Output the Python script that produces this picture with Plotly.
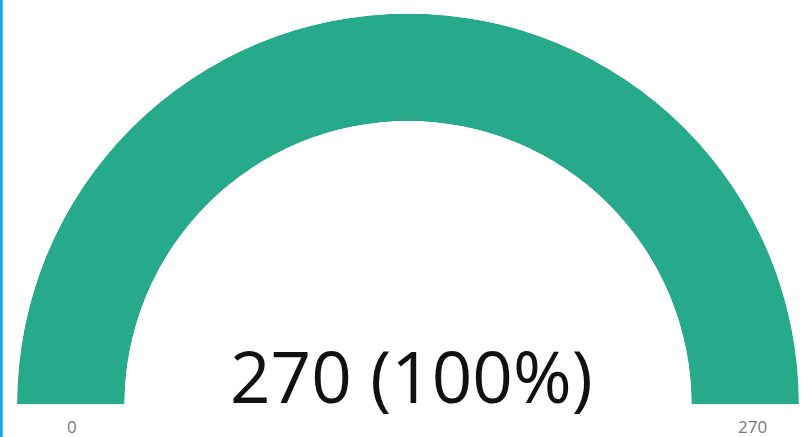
import plotly.graph_objects as go

# data
gauge_value = 270
gauge_min = 0
gauge_max = 270
tick_labels = ["0", "270"]

pct = round(100 * (gauge_value - gauge_min) / (gauge_max - gauge_min))
span = 180 * (gauge_value - gauge_min) / (gauge_max - gauge_min)

W, H = 802, 437
teal = "#27a98b"

fig = go.Figure()
fig.add_trace(go.Barpolar(
    r=[1], theta=[180 - span / 2], width=[span],
    marker=dict(color=teal, line=dict(width=0)),
    hoverinfo="skip", showlegend=False,
))

fig.update_layout(
    width=W, height=H,
    margin=dict(l=0, r=0, t=0, b=0),
    paper_bgcolor="white",
    polar=dict(
        domain=dict(x=[17 / W, 799 / W], y=[32 / H, 424 / H]),
        sector=[0, 180],
        hole=0.725,
        bgcolor="white",
        radialaxis=dict(visible=False, range=[0, 1]),
        angularaxis=dict(visible=False, direction="counterclockwise", rotation=0),
    ),
    font=dict(family="Open Sans"),
    annotations=[
        dict(text=f"{gauge_value} ({pct}%)", x=411 / W, y=1 - 375 / H, xref="paper", yref="paper",
             xanchor="center", yanchor="middle", showarrow=False,
             font=dict(family="Open Sans", size=71, color="#111111")),
        dict(text=tick_labels[0], x=72 / W, y=1 - 426 / H, xref="paper", yref="paper",
             xanchor="center", yanchor="middle", showarrow=False,
             font=dict(family="Open Sans", size=17, color="#787878")),
        dict(text=tick_labels[1], x=752 / W, y=1 - 426 / H, xref="paper", yref="paper",
             xanchor="center", yanchor="middle", showarrow=False,
             font=dict(family="Open Sans", size=17, color="#787878")),
    ],
    shapes=[dict(type="line", xref="paper", yref="paper", x0=0.0015, x1=0.0015, y0=0, y1=1,
                 line=dict(color="#12a5e3", width=3))],
)

fig.write_html("out.html", config={"displayModeBar": False},
               post_script="document.body.style.margin='0';")
